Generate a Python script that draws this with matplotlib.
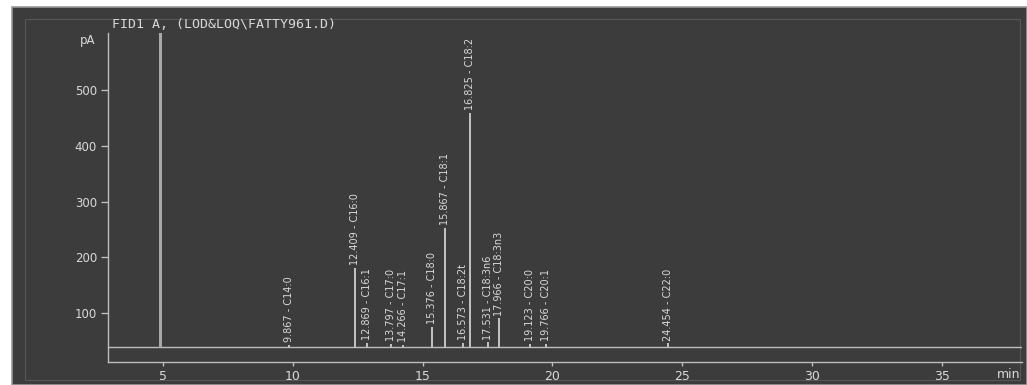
import matplotlib
matplotlib.use("Agg")
import matplotlib.pyplot as plt
from matplotlib.patches import Rectangle

# ---- data ----
retention_times = [9.867, 12.409, 12.869, 13.797, 14.266, 15.376, 15.867,
                   16.573, 16.825, 17.531, 17.966, 19.123, 19.766, 24.454]
compounds = ["C14:0", "C16:0", "C16:1", "C17:0", "C17:1", "C18:0", "C18:1",
             "C18:2t", "C18:2", "C18:3n6", "C18:3n3", "C20:0", "C20:1", "C22:0"]
peak_heights = [44, 181, 47, 45, 44, 75, 253, 47, 459, 48, 91, 45, 45, 46]   # pA
solvent_rt = 4.88
solvent_height = 2000   # off scale
baseline_pA = 40
y_ticks = [100, 200, 300, 400, 500]
x_ticks = [5, 10, 15, 20, 25, 30, 35]
title = "FID1 A, (LOD&LOQ\\FATTY961.D)"

BG = "#3c3c3c"
FG = "#d9d9d9"
LINE = "#bdbdbd"

W, H = 1027, 385
fig = plt.figure(figsize=(W / 100, H / 100), dpi=100, facecolor="white")

# dark panel
fig.patches.append(Rectangle((12 / W, 0), 1 - 12 / W, 1 - 7 / H, transform=fig.transFigure,
                             facecolor=BG, edgecolor="#9a9a9a", linewidth=1.2, zorder=-10))
fig.patches.append(Rectangle((25 / W, 1 - 380 / H), (1020 - 25) / W, (380 - 19) / H,
                             transform=fig.transFigure, facecolor="none",
                             edgecolor="#575757", linewidth=0.8, zorder=-9))

ax = fig.add_axes([108 / W, 1 - 362 / H, (1022 - 108) / W, (362 - 33) / H])
ax.set_zorder(5)
ax.set_facecolor("none")
ax.set_xlim(2.88, 38.1)
ax.set_ylim(12.7, 602)

# baseline and peaks
ax.hlines(baseline_pA, 2.88, 38.1, color=LINE, linewidth=1.0)
ax.vlines([solvent_rt], baseline_pA, [solvent_height], color="#a8a8a8", linewidth=2.2)
ax.vlines(retention_times, baseline_pA, peak_heights, color="#cfcfcf", linewidth=1.3)

for rt, name, h in zip(retention_times, compounds, peak_heights):
    ax.annotate(f"{rt:.3f} - {name}", xy=(rt, h), xytext=(0, 2),
                textcoords="offset points", rotation=90, ha="center", va="bottom",
                fontsize=7, color=FG)

# axes styling
for s in ["top", "right"]:
    ax.spines[s].set_visible(False)
for s in ["left", "bottom"]:
    ax.spines[s].set_color(LINE)
    ax.spines[s].set_linewidth(1.0)

ax.set_yticks(y_ticks)
ax.set_yticklabels([str(v) for v in y_ticks])
ax.set_xticks(x_ticks)
ax.set_xticklabels([str(v) for v in x_ticks])
ax.tick_params(axis="y", direction="out", length=5, width=1, colors=LINE,
               labelcolor=FG, labelsize=8.5, pad=3)
ax.tick_params(axis="x", direction="out", length=3, width=1, colors=LINE,
               labelcolor=FG, labelsize=9, pad=3)

ax.text(-0.014, 588, "pA", transform=ax.get_yaxis_transform(), ha="right",
        va="center", fontsize=8.5, color=FG)
ax.annotate("min", xy=(37.6, 0), xycoords=("data", "axes fraction"),
            xytext=(0, -4), textcoords="offset points", ha="center", va="top",
            fontsize=9, color=FG)

fig.text(112 / W, 1 - 24 / H, title, ha="left", va="center", fontsize=9.5,
         family="DejaVu Sans Mono", color=FG)

fig.savefig("out.png", dpi=100, facecolor=fig.get_facecolor())
